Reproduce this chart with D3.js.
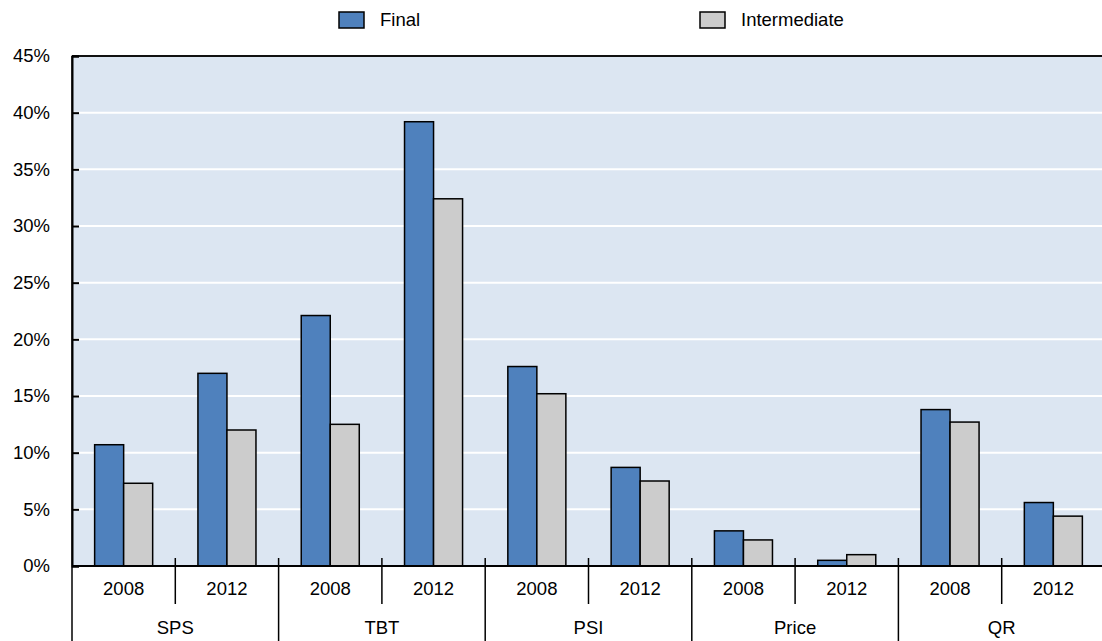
<!DOCTYPE html>
<html>
<head>
  <meta charset="utf-8">
  <script src="https://d3js.org/d3.v7.min.js"></script>
  <style>
    html, body { margin: 0; padding: 0; background: #fff; }
    svg { display: block; font-family: "Liberation Sans", Arial, sans-serif; }
  </style>
</head>
<body>
  <div id="chart"></div>
  <script>
    // data (percent)
    var categories = ["SPS", "TBT", "PSI", "Price", "QR"];
    var years = ["2008", "2012"];
    var seriesNames = ["Final", "Intermediate"];
    // one value per category x year, in order SPS08, SPS12, TBT08, ...
    var finalValues = [10.7, 17.0, 22.1, 39.2, 17.6, 8.7, 3.1, 0.5, 13.8, 5.6];
    var intermediateValues = [7.3, 12.0, 12.5, 32.4, 15.2, 7.5, 2.3, 1.0, 12.7, 4.4];
    var yTicks = [0, 5, 10, 15, 20, 25, 30, 35, 40, 45];

    var colors = { "Final": "#4F81BD", "Intermediate": "#CCCCCC" };
    var fontSize = 18.5;

    var width = 1102, height = 641;
    var margin = { top: 56, left: 72, bottom: 75 };
    var plotRight = 1105; // plot runs slightly past the picture edge

    var svg = d3.select("#chart")
      .append("svg")
      .attr("width", width)
      .attr("height", height);

    var x0 = d3.scaleBand()
      .domain(categories)
      .range([margin.left, plotRight]);

    var x1 = d3.scaleBand()
      .domain(years)
      .range([0, x0.bandwidth()]);

    var x2 = d3.scaleBand()
      .domain(seriesNames)
      .range([0, x1.bandwidth()])
      .paddingOuter(0.78);

    var y = d3.scaleLinear()
      .domain([0, 45])
      .range([height - margin.bottom, margin.top]);

    var y0 = y(0);

    // plot background
    svg.append("rect")
      .attr("x", margin.left)
      .attr("y", margin.top)
      .attr("width", plotRight - margin.left)
      .attr("height", y0 - margin.top)
      .attr("fill", "#DCE6F2");

    // gridlines
    svg.append("g")
      .selectAll("line")
      .data(yTicks.filter(d => d > 0 && d < 45))
      .join("line")
      .attr("x1", margin.left)
      .attr("x2", plotRight)
      .attr("y1", d => y(d))
      .attr("y2", d => y(d))
      .attr("stroke", "#fff")
      .attr("stroke-width", 2);

    // top border
    svg.append("line")
      .attr("x1", margin.left)
      .attr("x2", plotRight)
      .attr("y1", y(45))
      .attr("y2", y(45))
      .attr("stroke", "#111")
      .attr("stroke-width", 2);

    // build rows for bars
    var rows = [];
    categories.forEach(function (c, ci) {
      years.forEach(function (yr, yi) {
        var k = ci * years.length + yi;
        rows.push({ cat: c, year: yr, series: "Final", value: finalValues[k] });
        rows.push({ cat: c, year: yr, series: "Intermediate", value: intermediateValues[k] });
      });
    });

    svg.append("g")
      .selectAll("rect")
      .data(rows)
      .join("rect")
      .attr("x", d => x0(d.cat) + x1(d.year) + x2(d.series))
      .attr("y", d => y(d.value))
      .attr("width", x2.bandwidth())
      .attr("height", d => y0 - y(d.value))
      .attr("fill", d => colors[d.series])
      .attr("stroke", "#000")
      .attr("stroke-width", 1.5);

    // y axis
    var yAxis = svg.append("g")
      .attr("transform", "translate(" + margin.left + ",0)")
      .call(d3.axisLeft(y)
        .tickValues(yTicks)
        .tickSize(-7)
        .tickPadding(22)
        .tickFormat(d => d + "%"));
    yAxis.select(".domain").attr("stroke", "#000").attr("stroke-width", 2);
    yAxis.selectAll(".tick line").attr("stroke", "#000").attr("stroke-width", 2);
    yAxis.selectAll(".tick text")
      .attr("font-size", fontSize)
      .attr("fill", "#000")
      .attr("font-family", "Liberation Sans, Arial, sans-serif");

    // x axis base line
    svg.append("line")
      .attr("x1", margin.left)
      .attr("x2", plotRight)
      .attr("y1", y0)
      .attr("y2", y0)
      .attr("stroke", "#000")
      .attr("stroke-width", 2);

    var xAxis = svg.append("g");

    // separators between years inside a category
    xAxis.selectAll(".year-sep")
      .data(categories)
      .join("line")
      .attr("class", "year-sep")
      .attr("x1", d => x0(d) + x1("2012"))
      .attr("x2", d => x0(d) + x1("2012"))
      .attr("y1", y0 - 8)
      .attr("y2", y0 + 38)
      .attr("stroke", "#000")
      .attr("stroke-width", 1.5);

    // separators between categories
    var catEdges = categories.map(c => x0(c)).concat([plotRight]);
    xAxis.selectAll(".cat-sep")
      .data(catEdges)
      .join("line")
      .attr("class", "cat-sep")
      .attr("x1", d => d)
      .attr("x2", d => d)
      .attr("y1", (d, i) => i === 0 ? margin.top : y0 - 8)
      .attr("y2", height)
      .attr("stroke", "#000")
      .attr("stroke-width", 1.5);

    // year labels
    var yearLabels = [];
    categories.forEach(c => years.forEach(yr => yearLabels.push({ cat: c, year: yr })));
    xAxis.selectAll(".year-label")
      .data(yearLabels)
      .join("text")
      .attr("class", "year-label")
      .attr("x", d => x0(d.cat) + x1(d.year) + x1.bandwidth() / 2)
      .attr("y", y0 + 29)
      .attr("text-anchor", "middle")
      .attr("font-size", fontSize)
      .text(d => d.year);

    // category labels
    xAxis.selectAll(".cat-label")
      .data(categories)
      .join("text")
      .attr("class", "cat-label")
      .attr("x", d => x0(d) + x0.bandwidth() / 2)
      .attr("y", y0 + 68)
      .attr("text-anchor", "middle")
      .attr("font-size", fontSize)
      .text(d => d);

    // legend
    var legendX = { "Final": 339, "Intermediate": 700 };
    var legend = svg.append("g")
      .selectAll("g")
      .data(seriesNames)
      .join("g")
      .attr("transform", d => "translate(" + legendX[d] + ",12)");

    legend.append("rect")
      .attr("width", 25)
      .attr("height", 16)
      .attr("fill", d => colors[d])
      .attr("stroke", "#000")
      .attr("stroke-width", 1.5);

    legend.append("text")
      .attr("x", 41)
      .attr("y", 14)
      .attr("font-size", fontSize)
      .text(d => d);
  </script>
</body>
</html>
